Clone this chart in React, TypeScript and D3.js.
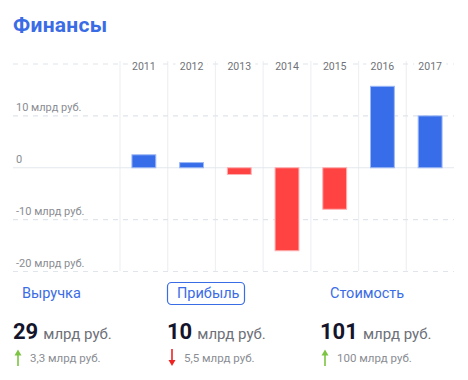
import React from "react";
import * as d3 from "d3";

const years = ["2011", "2012", "2013", "2014", "2015", "2016", "2017"];
const profit = [2.5, 1.0, -1.3, -16, -8, 15.7, 10];
const yTicks = [20, 10, 0, -10, -20];
const yTickLabels = ["", "10 млрд руб.", "0", "-10 млрд руб.", "-20 млрд руб."];
const metricNames = ["Выручка", "Прибыль", "Стоимость"];
const metricValues = ["29", "10", "101"];
const metricChanges = ["3,3 млрд руб.", "5,5 млрд руб.", "100 млрд руб."];
const metricUp = [true, false, true];

const W = 468;
const H = 380;
const FONT = "Roboto, 'Noto Sans', sans-serif";

export default function App() {
  const x = d3.scaleBand<string>().domain(years).range([120, 454]).paddingInner(0).paddingOuter(0);
  const y = d3.scaleLinear().domain([-20, 20]).range([271.5, 64]);
  const gridLeft = 13;
  const gridRight = 454;
  const bw = x.bandwidth() * 0.5;

  const colX = [13, 167, 320];
  const nameX = [22, 177, 330];

  return (
    <svg width={W} height={H} style={{ position: "absolute", left: 0, top: 0, background: "#fff" }} fontFamily={FONT}>
      <rect width={W} height={H} fill="#fff" />
      <text x={13} y={32} fontSize={21} fontWeight={700} fill="#3a6ce6" letterSpacing={0.3}>Финансы</text>

      {years.map((yr) => (
        <line key={"v" + yr} x1={x(yr)!} x2={x(yr)!} y1={61} y2={271} stroke="#eef0f4" strokeWidth={1.2} />
      ))}

      {yTicks.map((t) => (
        <line
          key={"h" + t}
          x1={gridLeft}
          x2={gridRight}
          y1={y(t)}
          y2={y(t)}
          stroke={t === 0 ? "#e3e7ec" : "#dfe5ea"}
          strokeWidth={1.2}
          strokeDasharray={t === 0 ? undefined : "5,5"}
        />
      ))}

      {yTicks.map((t, i) =>
        yTickLabels[i] ? (
          <text key={"yl" + t} x={16} y={y(t) - 5} fontSize={11} fill="#8a8d93">{yTickLabels[i]}</text>
        ) : null
      )}

      {years.map((yr) => {
        const cx = x(yr)! + x.bandwidth() / 2;
        return (
          <g key={"yr" + yr}>
            <rect x={cx - 16} y={y(20) - 3} width={32} height={8} fill="#fff" />
            <text x={cx} y={y(20) + 6} fontSize={10.5} fill="#6f7278" textAnchor="middle">{yr}</text>
          </g>
        );
      })}

      {years.map((yr, i) => {
        const v = profit[i];
        const pos = v >= 0;
        const cx = x(yr)! + x.bandwidth() / 2;
        return (
          <rect
            key={"b" + yr}
            x={cx - bw / 2}
            y={Math.min(y(v), y(0))}
            width={bw}
            height={Math.abs(y(v) - y(0))}
            fill={pos ? "#386de9" : "#ff4343"}
            stroke={pos ? "#9bb8f5" : "#ffb0b0"}
            strokeWidth={1}
          />
        );
      })}

      {metricNames.map((n, i) => (
        <g key={"m" + n}>
          {i === 1 ? (
            <rect x={167.5} y={282.5} width={77} height={22} rx={4} fill="none" stroke="#3a6ce6" strokeWidth={1.2} />
          ) : null}
          <text x={nameX[i]} y={298} fontSize={14.5} fill="#3a6ce6">{n}</text>
          <text x={colX[i]} y={339} fontSize={22} fontWeight={700} fill="#14152b">
            {metricValues[i]}
            <tspan fontSize={15} fontWeight={400} fill="#6d7078" dx={5}>млрд руб.</tspan>
          </text>
          <g transform={`translate(${colX[i] + 5},0)`}>
            {metricUp[i] ? (
              <g stroke="#7cc443" fill="#7cc443">
                <line x1={0} x2={0} y1={352} y2={366} strokeWidth={1.6} />
                <path d="M-3.5,355.5 L0,349.5 L3.5,355.5 Z" stroke="none" />
              </g>
            ) : (
              <g stroke="#ee2424" fill="#ee2424">
                <line x1={0} x2={0} y1={349} y2={363} strokeWidth={1.6} />
                <path d="M-3.5,360 L0,366 L3.5,360 Z" stroke="none" />
              </g>
            )}
          </g>
          <text x={colX[i] + 17} y={361.5} fontSize={11.5} fill="#8a8d93">{metricChanges[i]}</text>
        </g>
      ))}
    </svg>
  );
}
